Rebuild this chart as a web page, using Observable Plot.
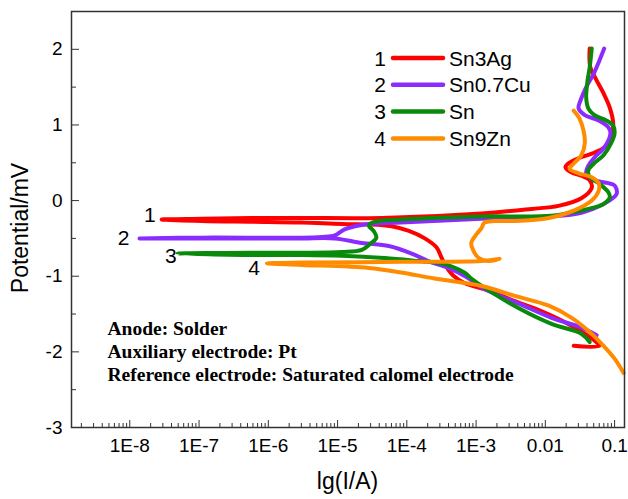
<!DOCTYPE html>
<html>
<head>
<meta charset="utf-8">
<script src="https://cdn.jsdelivr.net/npm/d3@7"></script>
<script src="https://cdn.jsdelivr.net/npm/@observablehq/plot@0.6"></script>
<style>
  body { margin: 0; background: #fff; }
  #chart { width: 628px; height: 499px; }
</style>
</head>
<body>
<div id="chart"></div>
<script>
// ---------------- data ----------------
const seriesNames   = ["Sn3Ag", "Sn0.7Cu", "Sn", "Sn9Zn"];
const seriesNumbers = ["1", "2", "3", "4"];
const seriesColors  = ["#ff0000", "#8b2cff", "#0a8a0a", "#ff8c00"];

// lg(I/A) and potential, traced from cathodic end -> corrosion potential -> anodic end
const sn3agLgI = [-1.59,-1.22,-1.29,-1.67,-2.06,-2.44,-2.82,-3.17,-3.33,-3.46,-3.51,-3.57,-3.74,-3.97,-4.22,-4.41,-4.94,-5.52,-6.24,-6.96,-7.54,
                  -6.96,-6.24,-5.52,-4.36,-2.92,-2.20,-1.81,-1.48,-1.33,-1.36,-1.48,-1.62,-1.71,-1.67,-1.52,-1.33,-1.15,-1.05,-1.02,-1.07,-1.16,-1.26,-1.35,-1.36];
const sn3agE   = [-1.92,-1.92,-1.85,-1.63,-1.46,-1.33,-1.19,-1.09,-0.99,-0.83,-0.73,-0.62,-0.50,-0.40,-0.34,-0.32,-0.31,-0.29,-0.28,-0.27,-0.25,
                  -0.24,-0.23,-0.23,-0.23,-0.17,-0.11,-0.07,0.03,0.17,0.27,0.33,0.37,0.44,0.49,0.56,0.62,0.70,0.83,1.02,1.23,1.42,1.59,1.76,2.01];

const sn07cuLgI = [-1.26,-1.48,-1.91,-2.39,-2.88,-3.14,-3.40,-3.69,-3.93,-4.26,-4.65,-5.04,-5.52,-6.24,-6.96,-7.86,
                   -6.96,-5.52,-5.23,-5.04,-4.90,-4.75,-4.55,-4.08,-2.92,-1.95,-1.48,-1.15,-0.97,-1.00,-1.09,-1.29,-1.41,-1.38,-1.29,-1.15,-1.06,-1.09,-1.23,-1.43,-1.52,-1.49,-1.41,-1.30,-1.22,-1.15];
const sn07cuE   = [-1.78,-1.68,-1.55,-1.36,-1.17,-1.01,-0.89,-0.80,-0.70,-0.60,-0.56,-0.50,-0.50,-0.50,-0.50,-0.50,
                   -0.49,-0.49,-0.48,-0.46,-0.38,-0.34,-0.31,-0.29,-0.24,-0.21,-0.16,-0.04,0.09,0.20,0.23,0.27,0.36,0.46,0.57,0.70,0.89,0.97,1.06,1.13,1.22,1.33,1.50,1.68,1.85,2.01];

const snLgI = [-1.36,-1.48,-1.91,-2.39,-2.88,-3.07,-3.17,-3.50,-3.83,-4.32,-4.94,-5.52,-6.24,-7.31,
               -6.24,-5.52,-4.94,-4.65,-4.54,-4.44,-4.48,-4.55,-4.47,-4.08,-2.92,-1.91,-1.48,-1.22,-1.15,-1.07,-1.09,-1.23,-1.36,-1.38,-1.30,-1.16,-1.05,-1.00,-1.02,-1.12,-1.29,-1.38,-1.41,-1.39,-1.36,-1.33];
const snE   = [-1.87,-1.76,-1.63,-1.42,-1.15,-1.03,-0.95,-0.83,-0.80,-0.76,-0.73,-0.72,-0.72,-0.70,
               -0.69,-0.69,-0.68,-0.65,-0.58,-0.49,-0.40,-0.33,-0.28,-0.25,-0.21,-0.20,-0.13,-0.07,-0.04,0.04,0.11,0.23,0.31,0.40,0.49,0.60,0.76,0.89,0.99,1.06,1.13,1.22,1.36,1.59,1.76,2.01];

const sn9znLgI = [-0.87,-1.00,-1.19,-1.38,-1.62,-1.95,-2.44,-2.92,-3.60,-4.08,-4.55,-5.52,-6.02,
                  -5.52,-4.08,-2.92,-2.66,-2.82,-2.96,-3.04,-3.07,-2.99,-2.92,-2.88,-2.73,-2.44,-1.95,-1.58,-1.33,-1.23,-1.23,-1.33,-1.52,-1.65,-1.59,-1.48,-1.43,-1.45,-1.51,-1.59];
const sn9znE   = [-2.28,-2.09,-1.89,-1.72,-1.55,-1.39,-1.26,-1.13,-1.03,-0.95,-0.89,-0.85,-0.83,
                  -0.82,-0.81,-0.80,-0.77,-0.80,-0.76,-0.66,-0.56,-0.44,-0.36,-0.29,-0.27,-0.27,-0.23,-0.13,0.00,0.13,0.23,0.31,0.36,0.42,0.49,0.60,0.76,0.93,1.09,1.19];

const xTickValues = [1e-8, 1e-7, 1e-6, 1e-5, 1e-4, 1e-3, 0.01, 0.1];
const xTickLabels = ["1E-8", "1E-7", "1E-6", "1E-5", "1E-4", "1E-3", "0.01", "0.1"];
const yTickValues = [-3, -2, -1, 0, 1, 2];
const yMinorTicks = [-2.5, -1.5, -0.5, 0.5, 1.5];
const xTitle = "lg(I/A)";
const yTitle = "Potential/mV";
const notes = ["Anode: Solder", "Auxiliary electrode: Pt", "Reference electrode: Saturated calomel electrode"];

// ---------------- build ----------------
const lgArrays = [sn3agLgI, sn07cuLgI, snLgI, sn9znLgI];
const eArrays  = [sn3agE, sn07cuE, snE, sn9znE];
const rows = [];
const tips = [];
seriesNames.forEach((name, k) => {
  let minI = 0;
  lgArrays[k].forEach((lg, i) => {
    rows.push({series: name, I: Math.pow(10, lg), E: eArrays[k][i]});
    if (lg < lgArrays[k][minI]) minI = i;
  });
  tips.push({series: name, num: seriesNumbers[k], I: Math.pow(10, lgArrays[k][minI]), E: eArrays[k][minI]});
});

const xDomain = [1.44e-9, 0.139];
const yDomain = [-3, 2.5];
const xMinor = [];
for (let d = -9; d <= -1; d++) for (let m = 2; m <= 9; m++) {
  const v = m * Math.pow(10, d);
  if (v > xDomain[0] && v < xDomain[1]) xMinor.push(v);
}
const xLabelMap = new Map(xTickValues.map((v, i) => [v, xTickLabels[i]]));

const W = 628, H = 499, mL = 71, mR = 4, mT = 11, mB = 72;
const plotW = W - mL - mR, plotH = H - mT - mB;
const sans = "'Liberation Sans', Arial, sans-serif";
const serif = "'Liberation Serif', 'Times New Roman', serif";

const labelOffsets = [{dx: -6, dy: -4}, {dx: -10, dy: 0}, {dx: -1, dy: 3}, {dx: -7, dy: 5}];

const chart = Plot.plot({
  width: W, height: H,
  marginLeft: mL, marginRight: mR, marginTop: mT, marginBottom: mB,
  style: {fontFamily: sans, background: "#fff", color: "#000"},
  x: {type: "log", domain: xDomain, label: null},
  y: {domain: yDomain, label: null},
  color: {domain: seriesNames, range: seriesColors},
  marks: [
    Plot.ruleX(xTickValues, {x: d => d, insetTop: plotH - 7, stroke: "#333"}),
    Plot.ruleX(xMinor, {x: d => d, insetTop: plotH - 4, stroke: "#333"}),
    Plot.ruleY(yTickValues, {y: d => d, insetRight: plotW - 8, stroke: "#333"}),
    Plot.ruleY(yMinorTicks, {y: d => d, insetRight: plotW - 5, stroke: "#333"}),
    Plot.axisX({ticks: xTickValues, tickFormat: d => xLabelMap.get(d), tickSize: 0, tickPadding: 11, fontSize: 19, label: null}),
    Plot.axisY({ticks: yTickValues, tickFormat: d => String(d), tickSize: 0, tickPadding: 9, fontSize: 19, label: null}),
    Plot.line(rows, {x: "I", y: "E", z: "series", stroke: "series", strokeWidth: 4, curve: "catmull-rom", strokeLinejoin: "round", strokeLinecap: "round"}),
    ...tips.map((t, k) => Plot.text([t], {x: "I", y: "E", text: "num", textAnchor: "end", dx: labelOffsets[k].dx, dy: labelOffsets[k].dy, fontSize: 21, fill: "#000"})),
    Plot.text([notes.join("\n")], {frameAnchor: "top-left", dx: 36, dy: 307, lineAnchor: "top", textAnchor: "start",
      fontFamily: serif, fontWeight: "bold", fontSize: 19.5, lineHeight: 1.18, fill: "#000"}),
    Plot.frame({stroke: "#333", strokeWidth: 1.5})
  ]
});
document.getElementById("chart").appendChild(chart);

// legend (inside plot, top right) and axis titles
const svg = d3.select(chart);
const leg = svg.append("g").attr("font-family", sans).attr("font-size", 21).attr("fill", "#000");
seriesNames.forEach((name, i) => {
  const cy = 58 + i * 26.8;
  leg.append("text").attr("x", 380).attr("y", cy).attr("dy", "0.36em").attr("text-anchor", "middle").text(seriesNumbers[i]);
  leg.append("line").attr("x1", 393).attr("x2", 443).attr("y1", cy).attr("y2", cy)
     .attr("stroke", seriesColors[i]).attr("stroke-width", 4.5).attr("stroke-linecap", "round");
  leg.append("text").attr("x", 449).attr("y", cy).attr("dy", "0.36em").attr("text-anchor", "start").text(name);
});
svg.append("text").attr("transform", `translate(20,228) rotate(-90)`).attr("dy", "0.36em")
   .attr("text-anchor", "middle").attr("font-family", sans).attr("font-size", 23).attr("fill", "#000").text(yTitle);
svg.append("text").attr("x", mL + plotW / 2).attr("y", 489).attr("text-anchor", "middle")
   .attr("font-family", sans).attr("font-size", 23).attr("fill", "#000").text(xTitle);
</script>
</body>
</html>
